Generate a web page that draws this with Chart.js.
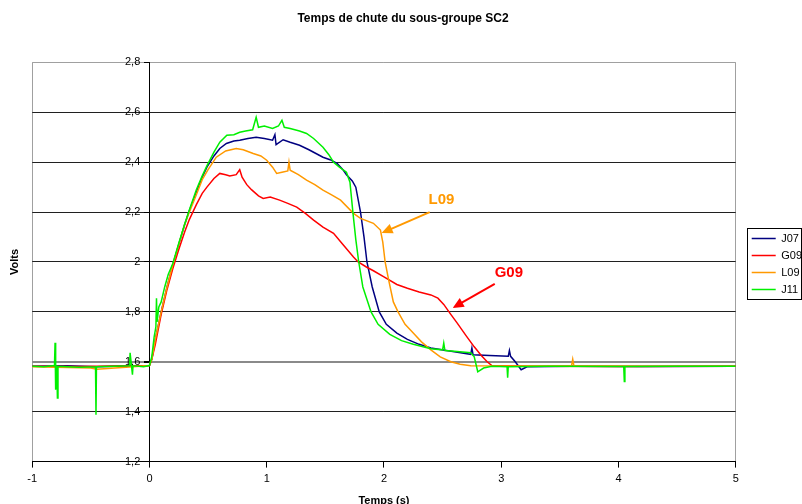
<!DOCTYPE html>
<html>
<head>
<meta charset="utf-8">
<script src="https://cdn.jsdelivr.net/npm/chart.js@4.4.1/dist/chart.umd.min.js"></script>
<style>
	body { margin: 0; background: #fff; }
	#wrap { width: 802px; height: 504px; }
</style>
</head>
<body>
<div id="wrap"><canvas id="chute"></canvas></div>
<script>
// Données (temps en s, tension en V)
const seriesNames = ['J07', 'G09', 'L09', 'J11'];
const xTicks = [-1, 0, 1, 2, 3, 4, 5];
const yTicks = [1.2, 1.4, 1.6, 1.8, 2, 2.2, 2.4, 2.6, 2.8];

const J07_t = [-1, -0.7, -0.45, -0.2, 0, 0.02, 0.05, 0.1, 0.15, 0.2, 0.25, 0.3, 0.34, 0.4, 0.45, 0.49, 0.55, 0.6, 0.656, 0.72,
	0.77, 0.84, 0.91, 0.98, 1.05, 1.07, 1.08, 1.14, 1.2, 1.28, 1.36, 1.42, 1.48, 1.54, 1.6, 1.65, 1.68, 1.73, 1.76, 1.78,
	1.80, 1.83, 1.855, 1.90, 1.96, 2.02, 2.11, 2.2, 2.3, 2.4, 2.6, 2.74, 2.75, 2.76, 2.9, 3.06, 3.07, 3.08, 3.12, 3.17,
	3.22, 3.6, 4.2, 5];
const J07_v = [1.582, 1.584, 1.58, 1.583, 1.585, 1.61, 1.69, 1.80, 1.90, 1.99, 2.07, 2.15, 2.205, 2.28, 2.34, 2.38, 2.425, 2.455, 2.475, 2.485,
	2.488, 2.495, 2.50, 2.495, 2.488, 2.51, 2.47, 2.49, 2.48, 2.468, 2.45, 2.435, 2.42, 2.41, 2.395, 2.37, 2.35, 2.325, 2.30, 2.25,
	2.20, 2.10, 2.0, 1.90, 1.80, 1.75, 1.715, 1.69, 1.67, 1.655, 1.64, 1.63, 1.655, 1.628, 1.625, 1.622, 1.645, 1.622, 1.60, 1.568,
	1.58, 1.582, 1.581, 1.582];

const G09_t = [-1, -0.6, -0.3, 0, 0.02, 0.05, 0.1, 0.15, 0.2, 0.25, 0.3, 0.34, 0.4, 0.45, 0.49, 0.55, 0.6, 0.65, 0.685, 0.74,
	0.77, 0.79, 0.83, 0.87, 0.93, 0.97, 1.03, 1.11, 1.18, 1.256, 1.33, 1.40, 1.48, 1.57, 1.65, 1.74, 1.78, 1.85, 1.91, 2.0,
	2.11, 2.2, 2.3, 2.4, 2.46, 2.51, 2.57, 2.625, 2.7, 2.77, 2.83, 2.88, 2.92, 3.3, 4.0, 5];
const G09_v = [1.582, 1.581, 1.583, 1.585, 1.61, 1.67, 1.79, 1.89, 1.975, 2.05, 2.12, 2.17, 2.23, 2.275, 2.30, 2.335, 2.355, 2.35, 2.345, 2.35,
	2.37, 2.34, 2.31, 2.29, 2.265, 2.255, 2.26, 2.248, 2.235, 2.22, 2.195, 2.168, 2.14, 2.115, 2.07, 2.02, 2.0, 1.98, 1.965, 1.94,
	1.91, 1.895, 1.88, 1.868, 1.855, 1.83, 1.79, 1.755, 1.705, 1.66, 1.625, 1.60, 1.585, 1.582, 1.581, 1.582];

const L09_t = [-1, -0.5, -0.45, -0.2, 0, 0.02, 0.05, 0.1, 0.15, 0.2, 0.25, 0.3, 0.34, 0.4, 0.45, 0.5, 0.57, 0.65, 0.74, 0.8,
	0.885, 0.95, 1.0, 1.05, 1.085, 1.13, 1.18, 1.19, 1.2, 1.27, 1.34, 1.41, 1.48, 1.55, 1.63, 1.74, 1.80, 1.91, 1.97, 1.99,
	2.01, 2.04, 2.08, 2.12, 2.18, 2.25, 2.32, 2.40, 2.48, 2.57, 2.65, 2.74, 3.2, 3.6, 3.61, 3.62, 4.2, 5];
const L09_v = [1.58, 1.575, 1.57, 1.578, 1.585, 1.61, 1.69, 1.80, 1.90, 1.99, 2.07, 2.15, 2.20, 2.27, 2.33, 2.37, 2.42, 2.445, 2.455, 2.45,
	2.435, 2.425, 2.408, 2.38, 2.355, 2.36, 2.365, 2.40, 2.368, 2.35, 2.328, 2.31, 2.288, 2.27, 2.248, 2.195, 2.175, 2.155, 2.128, 2.08,
	2.0, 1.928, 1.84, 1.80, 1.75, 1.715, 1.68, 1.648, 1.62, 1.60, 1.59, 1.584, 1.583, 1.584, 1.61, 1.584, 1.582, 1.582];

const J11_t = [-1, -0.9, -0.81, -0.805, -0.80, -0.79, -0.785, -0.78, -0.7, -0.6, -0.46, -0.456, -0.452, -0.3, -0.17, -0.165, -0.145, -0.14, -0.05, 0,
	0.02, 0.04, 0.055, 0.06, 0.065, 0.08, 0.1, 0.13, 0.16, 0.2, 0.25, 0.3, 0.34, 0.4, 0.45, 0.49, 0.55, 0.6, 0.66, 0.72,
	0.77, 0.82, 0.88, 0.91, 0.93, 0.98, 1.05, 1.1, 1.13, 1.15, 1.2, 1.28, 1.34, 1.4, 1.48, 1.53, 1.57, 1.62, 1.68, 1.71,
	1.735, 1.76, 1.785, 1.82, 1.89, 1.95, 2.05, 2.15, 2.25, 2.4, 2.5, 2.51, 2.52, 2.6, 2.74, 2.77, 2.80, 2.85, 2.92, 3.05,
	3.055, 3.06, 3.4, 4.045, 4.05, 4.055, 4.5, 5];
const J11_v = [1.582, 1.58, 1.585, 1.676, 1.488, 1.585, 1.455, 1.582, 1.58, 1.578, 1.58, 1.388, 1.58, 1.582, 1.584, 1.636, 1.548, 1.584, 1.58, 1.585,
	1.62, 1.70, 1.74, 1.855, 1.76, 1.82, 1.84, 1.90, 1.95, 1.995, 2.075, 2.15, 2.208, 2.29, 2.345, 2.385, 2.44, 2.48, 2.508, 2.51,
	2.52, 2.525, 2.53, 2.58, 2.54, 2.545, 2.535, 2.545, 2.568, 2.54, 2.535, 2.525, 2.515, 2.495, 2.46, 2.43, 2.40, 2.38, 2.36, 2.32,
	2.20, 2.09, 2.0, 1.90, 1.80, 1.75, 1.71, 1.685, 1.67, 1.652, 1.648, 1.675, 1.645, 1.642, 1.636, 1.62, 1.56, 1.575, 1.582, 1.58,
	1.536, 1.58, 1.582, 1.581, 1.521, 1.581, 1.582, 1.582];

const seriesTimes = [J07_t, G09_t, L09_t, J11_t];
const seriesVolts = [J07_v, G09_v, L09_v, J11_v];
const seriesColors = ['#000080', '#ff0000', '#ff9900', '#00f000'];

// Étiquettes fléchées (en coordonnées du graphique)
const notes = [
	{ text: 'L09', color: '#ff9900', tx: 2.49, ty: 2.248, from: [2.39, 2.2], to: [1.98, 2.116] },
	{ text: 'G09', color: '#ff0000', tx: 3.065, ty: 1.956, from: [2.945, 1.912], to: [2.586, 1.816] }
];

Chart.defaults.font.family = '"Liberation Sans", Arial, sans-serif';
Chart.defaults.font.size = 11;
Chart.defaults.color = '#000';

// l'axe Y coupe en x = 0 : les libellés sont alignés à droite sur l'axe, on ajoute un blanc
const fmt = v => String(Math.round(v * 10) / 10).replace('.', ',') + '   ';

const notesPlugin = {
	id: 'notes',
	afterDatasetsDraw(chart) {
		const ctx = chart.ctx, sx = chart.scales.x, sy = chart.scales.y;
		notes.forEach(n => {
			const x1 = sx.getPixelForValue(n.from[0]), y1 = sy.getPixelForValue(n.from[1]);
			const x2 = sx.getPixelForValue(n.to[0]), y2 = sy.getPixelForValue(n.to[1]);
			const a = Math.atan2(y2 - y1, x2 - x1);
			ctx.save();
			ctx.strokeStyle = n.color;
			ctx.fillStyle = n.color;
			ctx.lineWidth = 2;
			ctx.beginPath();
			ctx.moveTo(x1, y1);
			ctx.lineTo(x2 - 8 * Math.cos(a), y2 - 8 * Math.sin(a));
			ctx.stroke();
			ctx.beginPath();
			ctx.moveTo(x2, y2);
			ctx.lineTo(x2 - 11 * Math.cos(a) + 5 * Math.sin(a), y2 - 11 * Math.sin(a) - 5 * Math.cos(a));
			ctx.lineTo(x2 - 11 * Math.cos(a) - 5 * Math.sin(a), y2 - 11 * Math.sin(a) + 5 * Math.cos(a));
			ctx.closePath();
			ctx.fill();
			ctx.font = 'bold 15px "Liberation Sans", Arial, sans-serif';
			ctx.textAlign = 'center';
			ctx.textBaseline = 'middle';
			ctx.fillText(n.text, sx.getPixelForValue(n.tx), sy.getPixelForValue(n.ty));
			ctx.restore();
		});
	}
};

const legendBox = {
	id: 'legendBox',
	afterLayout(chart) {
		// décale la légende vers le bas et la droite
		const lg = chart.legend;
		lg.left += 10; lg.right += 10;
		lg.top += 10; lg.bottom += 10;
	},
	afterDraw(chart) {
		const boxes = chart.legend.legendHitBoxes;
		if (!boxes || !boxes.length) return;
		const l = Math.min(...boxes.map(b => b.left)) - 5;
		const t = Math.min(...boxes.map(b => b.top)) - 5;
		const r = Math.min(Math.max(...boxes.map(b => b.left + b.width)) + 4, chart.width - 1);
		const bt = Math.max(...boxes.map(b => b.top + b.height)) + 4;
		const ctx = chart.ctx;
		ctx.save();
		ctx.strokeStyle = '#000';
		ctx.lineWidth = 1;
		ctx.strokeRect(Math.round(l) + 0.5, Math.round(t) + 0.5, Math.round(r - l), Math.round(bt - t));
		ctx.restore();
	}
};

new Chart(document.getElementById('chute'), {
	type: 'line',
	data: {
		datasets: seriesNames.map((name, i) => ({
			label: name,
			data: seriesTimes[i].map((t, k) => ({ x: t, y: seriesVolts[i][k] })),
			borderColor: seriesColors[i],
			backgroundColor: seriesColors[i],
			borderWidth: 1.5,
			pointRadius: 0,
			tension: 0,
			order: 3 - i
		}))
	},
	options: {
		responsive: true,
		maintainAspectRatio: false,
		animation: false,
		layout: { padding: { left: 4, right: 0, top: 0, bottom: -4 } },
		plugins: {
			title: {
				display: true,
				text: 'Temps de chute du sous-groupe SC2',
				font: { size: 12, weight: 'bold' },
				padding: { top: 11, bottom: 37 }
			},
			legend: {
				position: 'right',
				labels: {
					usePointStyle: true,
					pointStyle: 'line',
					pointStyleWidth: 24,
					padding: 6,
					font: { size: 11 },
					sort: (a, b) => a.datasetIndex - b.datasetIndex
				}
			},
			tooltip: { enabled: false }
		},
		scales: {
			x: {
				type: 'linear',
				min: -1,
				max: 5,
				afterBuildTicks: s => { s.ticks = xTicks.map(v => ({ value: v })); },
				ticks: { padding: 5, font: { size: 11 } },
				grid: {
					color: c => (c.tick && (c.tick.value === -1 || c.tick.value === 5)) ? '#a0a0a0' : 'rgba(0,0,0,0)',
					tickColor: '#000',
					tickLength: 6
				},
				border: { color: '#000' },
				title: {
					display: true,
					text: 'Temps (s)',
					font: { size: 11, weight: 'bold' },
					padding: { top: 4, bottom: 0 }
				}
			},
			y: {
				type: 'linear',
				position: { x: 0 },
				min: 1.2,
				max: 2.8,
				afterBuildTicks: s => { s.ticks = yTicks.map(v => ({ value: v })); },
				ticks: { callback: v => fmt(v), padding: 3, font: { size: 11 } },
				grid: {
					color: c => {
						const v = c.tick ? Math.round(c.tick.value * 10) / 10 : 0;
						if (v === 2.8) return '#a0a0a0';
						if (v === 1.6) return '#8a8a8a';
						return '#202020';
					},
					lineWidth: c => (c.tick && Math.round(c.tick.value * 10) === 16) ? 2 : 1,
					tickColor: '#000',
					tickLength: 5
				},
				border: { color: '#000' }
			},
			yT: {
				type: 'linear',
				position: 'left',
				min: 1.2,
				max: 2.8,
				ticks: { display: false },
				grid: { display: false, drawTicks: false },
				border: { display: false },
				title: {
					display: true,
					text: 'Volts',
					font: { size: 11, weight: 'bold' },
					padding: { top: 4, bottom: 11 }
				}
			}
		}
	},
	plugins: [notesPlugin, legendBox]
});
</script>
</body>
</html>
